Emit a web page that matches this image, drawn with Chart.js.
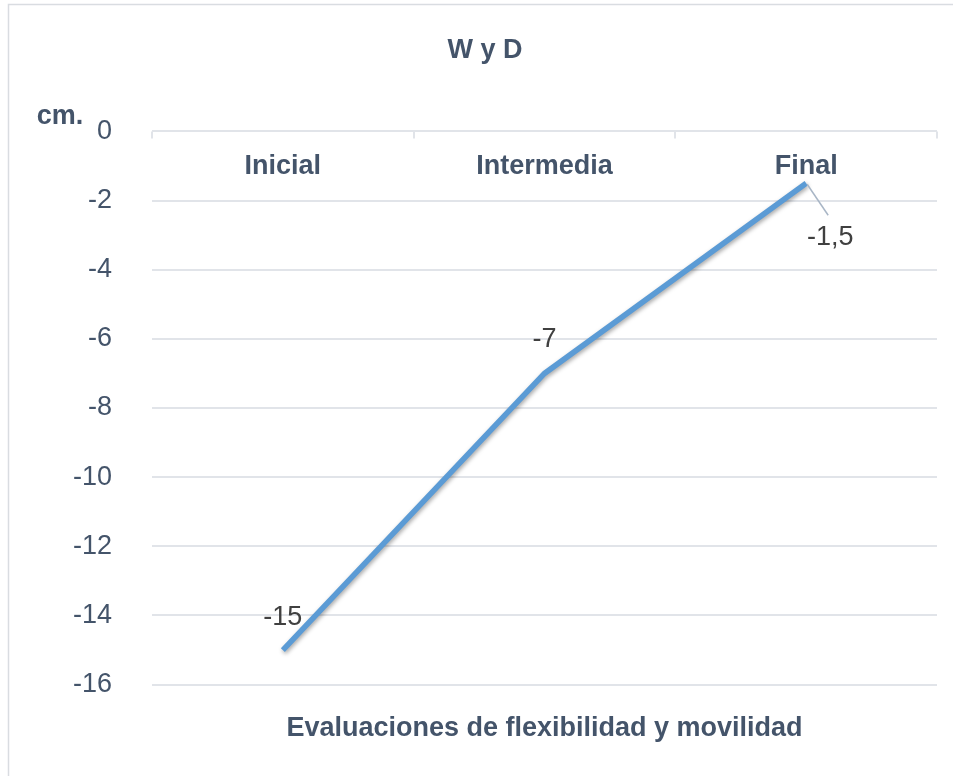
<!DOCTYPE html>
<html>
<head>
<meta charset="utf-8">
<script src="https://cdn.jsdelivr.net/npm/chart.js@4"></script>
<style>
  html, body { margin: 0; padding: 0; background: #fff; }
  #wrap { position: relative; width: 953px; height: 776px; }
</style>
</head>
<body>
<div id="wrap"><canvas id="myChart"></canvas></div>
<script>
// datos del grafico
var categorias = ['Inicial', 'Intermedia', 'Final'];
var valores = [-15, -7, -1.5];
var ejeMin = -16;
var ejeMax = 0;
var ejePaso = 2;

var titulo = 'W y D';
var tituloEjeX = 'Evaluaciones de flexibilidad y movilidad';
var unidad = 'cm.';

var azul = '#5b9bd5';
var pizarra = '#44546a';
var gris = '#e1e4e9';

Chart.defaults.font.family = '"Liberation Sans", Arial, sans-serif';
Chart.defaults.color = pizarra;

// desplazamiento de cada etiqueta de dato respecto al punto
var offsets = [[0, -32], [0, -34], [24, 54]];

var extras = {
  id: 'extras',
  beforeDraw: function (chart) {
    var c = chart.ctx;
    c.save();
    c.strokeStyle = '#d9dce1';
    c.lineWidth = 1.5;
    c.strokeRect(8.5, 4.5, 1000, 900);
    c.restore();
  },
  beforeDatasetDraw: function (chart) {
    var c = chart.ctx;
    c.save();
    c.shadowColor = 'rgba(0,0,0,0.35)';
    c.shadowBlur = 4;
    c.shadowOffsetX = 1;
    c.shadowOffsetY = 2;
  },
  afterDatasetDraw: function (chart) {
    chart.ctx.restore();
  },
  afterDraw: function (chart) {
    var c = chart.ctx;
    var x = chart.scales.x;
    var area = chart.chartArea;
    c.save();

    // marcas cortas del eje de categorias
    c.strokeStyle = gris;
    c.lineWidth = 2;
    for (var k = 0; k <= categorias.length; k++) {
      var px = Math.round(x.getPixelForValue(k - 0.5));
      c.beginPath();
      c.moveTo(px, area.top);
      c.lineTo(px, area.top + 7);
      c.stroke();
    }

    // etiquetas de categoria dentro del area
    c.fillStyle = pizarra;
    c.font = 'bold 27px "Liberation Sans", Arial, sans-serif';
    c.textAlign = 'center';
    c.textBaseline = 'middle';
    categorias.forEach(function (cat, i) {
      c.fillText(cat, x.getPixelForValue(i), area.top + 35);
    });

    // unidad
    c.fillText(unidad, 60, 117);

    // etiquetas de datos
    var meta = chart.getDatasetMeta(0);
    c.font = '27px "Liberation Sans", Arial, sans-serif';
    c.fillStyle = '#404040';
    meta.data.forEach(function (p, i) {
      var o = offsets[i];
      if (i === valores.length - 1) {
        c.strokeStyle = '#a9b6c6';
        c.lineWidth = 1.5;
        c.beginPath();
        c.moveTo(p.x + 1, p.y + 1);
        c.lineTo(p.x + 22, p.y + 32);
        c.stroke();
      }
      c.fillText(String(valores[i]).replace('.', ','), p.x + o[0], p.y + o[1]);
    });
    c.restore();
  }
};

new Chart(document.getElementById('myChart'), {
  type: 'line',
  data: {
    labels: categorias,
    datasets: [{
      data: valores,
      borderColor: azul,
      backgroundColor: azul,
      borderWidth: 5.5,
      pointRadius: 0,
      tension: 0
    }]
  },
  options: {
    responsive: true,
    maintainAspectRatio: false,
    animation: false,
    layout: { padding: { left: 33, right: 16, top: 0, bottom: 31 } },
    plugins: {
      legend: { display: false },
      tooltip: { enabled: false },
      title: {
        display: true,
        text: titulo,
        color: pizarra,
        font: { size: 27, weight: 'bold' },
        padding: { top: 34, bottom: 65 }
      }
    },
    scales: {
      x: {
        position: 'top',
        offset: true,
        grid: { display: false, drawTicks: false },
        border: { display: false },
        ticks: { display: false }
      },
      x2: {
        position: 'bottom',
        labels: categorias,
        offset: true,
        grid: { display: false, drawTicks: false },
        border: { display: false },
        ticks: { display: false },
        title: {
          display: true,
          text: tituloEjeX,
          color: pizarra,
          font: { size: 27, weight: 'bold' },
          padding: { top: 28, bottom: 0 }
        }
      },
      y: {
        min: ejeMin,
        max: ejeMax,
        ticks: {
          stepSize: ejePaso,
          padding: 40,
          color: pizarra,
          font: { size: 27 }
        },
        grid: { color: gris, lineWidth: 2, drawTicks: false },
        border: { display: false }
      }
    }
  },
  plugins: [extras]
});
</script>
</body>
</html>
